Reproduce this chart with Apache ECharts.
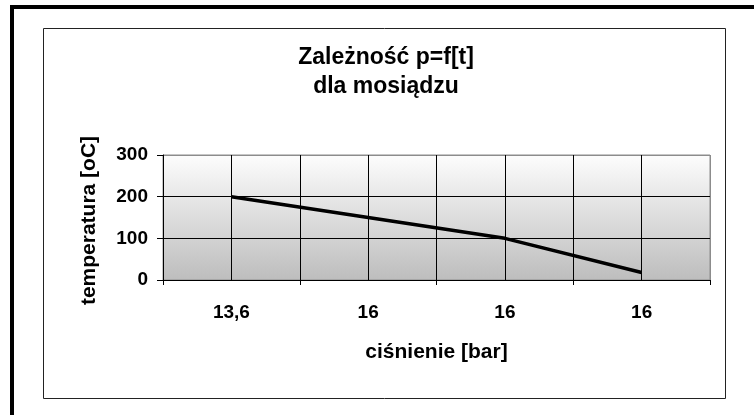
<!DOCTYPE html>
<html>
<head>
<meta charset="utf-8">
<script src="https://cdn.jsdelivr.net/npm/echarts@6/dist/echarts.min.js"></script>
<style>
html,body{margin:0;padding:0;background:#fff;}
#c{width:754px;height:415px;}
</style>
</head>
<body>
<div id="c"></div>
<script>
const titleLines = ['Zależność p=f[t]', 'dla mosiądzu'];
const categories = ['13,6', '16', '16', '16'];
const temperatures = [200, 150, 100, 18];
const yTicks = { min: 0, max: 300, interval: 100 };
const xAxisName = 'ciśnienie [bar]';
const yAxisName = 'temperatura [oC]';

const FONT = '"Liberation Sans", Arial, sans-serif';
const chart = echarts.init(document.getElementById('c'));
chart.setOption({
  animation: false,
  backgroundColor: '#fff',
  textStyle: { fontFamily: FONT },
  graphic: [
    { type: 'rect', shape: { x: 12, y: 7, width: 800, height: 450 },
      style: { fill: 'none', stroke: '#000', lineWidth: 4 }, z: 100 },
    { type: 'rect', shape: { x: 43.5, y: 28.5, width: 682, height: 370 },
      style: { fill: 'none', stroke: '#222', lineWidth: 1 }, z: 100 }
  ],
  title: {
    text: titleLines[0],
    subtext: titleLines[1],
    left: 386, top: 46, textAlign: 'center', itemGap: 6, padding: 0,
    textStyle: { fontFamily: FONT, fontWeight: 'bold', fontSize: 23, color: '#000', lineHeight: 23 },
    subtextStyle: { fontFamily: FONT, fontWeight: 'bold', fontSize: 23, color: '#000', lineHeight: 23 }
  },
  grid: {
    left: 163, top: 155, width: 547, height: 125,
    show: true, borderColor: '#8c8c8c', borderWidth: 1,
    backgroundColor: { type: 'linear', x: 0, y: 0, x2: 0, y2: 1,
      colorStops: [{ offset: 0, color: '#fdfdfd' }, { offset: 1, color: '#bdbdbd' }] }
  },
  xAxis: [
    {
      type: 'category', data: categories, boundaryGap: true,
      name: xAxisName, nameLocation: 'middle', nameGap: 62,
      nameTextStyle: { fontFamily: FONT, fontWeight: 'bold', fontSize: 21, color: '#000' },
      axisLine: { lineStyle: { color: '#000', width: 1 } },
      axisTick: { show: true, length: 5, inside: false, alignWithLabel: false, lineStyle: { color: '#000' } },
      axisLabel: { margin: 23, fontFamily: FONT, fontWeight: 'bold', fontSize: 19, color: '#000' },
      splitLine: { show: false }
    },
    {
      type: 'value', min: 0, max: 8, interval: 1, position: 'bottom',
      axisLine: { show: false }, axisTick: { show: false }, axisLabel: { show: false },
      splitLine: { show: true, lineStyle: { width: 1,
        color: ['#8c8c8c', '#000', '#000', '#000', '#000', '#000', '#000', '#000', '#8c8c8c'] } }
    }
  ],
  yAxis: {
    type: 'value', min: yTicks.min, max: yTicks.max, interval: yTicks.interval,
    name: yAxisName, nameLocation: 'middle', nameGap: 63, nameRotate: 90,
    nameTextStyle: { fontFamily: FONT, fontWeight: 'bold', fontSize: 21, color: '#000',
      align: 'center', verticalAlign: 'bottom', padding: [0, 6, 0, 0] },
    axisLine: { show: true, lineStyle: { color: '#000', width: 1 } },
    axisTick: { show: true, length: 6, lineStyle: { color: '#000' } },
    axisLabel: { margin: 15, fontFamily: FONT, fontWeight: 'bold', fontSize: 19, color: '#000' },
    splitLine: { show: true, lineStyle: { width: 1, color: ['#000', '#000', '#000', '#8c8c8c'] } }
  },
  series: [{
    type: 'line', xAxisIndex: 0, data: temperatures,
    showSymbol: false, symbol: 'none',
    lineStyle: { color: '#000', width: 3.5 }, z: 10
  }]
});
</script>
</body>
</html>
